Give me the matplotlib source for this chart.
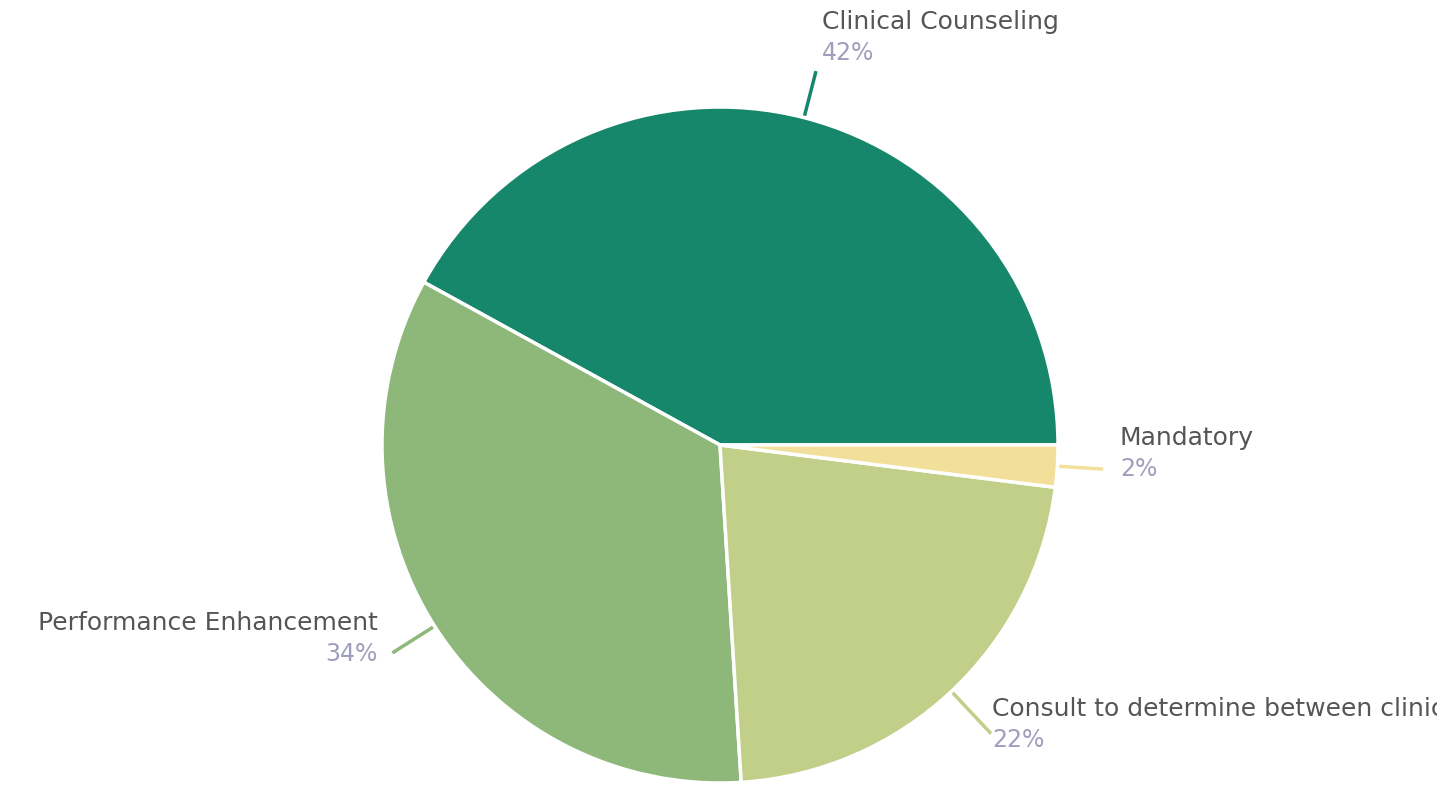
import numpy as np
import matplotlib.pyplot as plt

# slice data (counter-clockwise from 3 o'clock)
labels = ['Clinical Counseling', 'Performance Enhancement',
          'Consult to determine between clinical counseling and performance enhancement',
          'Mandatory']
shares = [42, 34, 22, 2]
colors = ['#17876b', '#8db87a', '#c1cf88', '#f2e09a']

W, H = 1437, 788
fig = plt.figure(figsize=(W / 100, H / 100), dpi=100)
ax = fig.add_axes([0, 0, 1, 1])

cx, cy, r = 720, H - 445, 338
wedges, _ = ax.pie(shares, colors=colors, startangle=0, counterclock=True,
                   center=(cx, cy), radius=r, frame=True,
                   wedgeprops=dict(edgecolor='white', linewidth=2.5))
ax.set_xlim(0, W)
ax.set_ylim(0, H)
ax.set_aspect('equal')
ax.axis('off')

# label anchor (pixel coords from top-left) and alignment per slice
text_pos = [(822, 22, 'left'), (378, 623, 'right'), (992, 709, 'left'), (1120, 438, 'left')]
lead_len = [48, 50, 58, 46]

for w, lab, pct, col, (tx, ty, ha), ll in zip(wedges, labels, shares, colors, text_pos, lead_len):
    ang = np.deg2rad((w.theta1 + w.theta2) / 2)
    x0, y0 = cx + (r + 2) * np.cos(ang), cy + (r + 2) * np.sin(ang)
    x1, y1 = cx + (r + ll) * np.cos(ang), cy + (r + ll) * np.sin(ang)
    ax.plot([x0, x1], [y0, y1], color=col, lw=2.5, solid_capstyle='butt', clip_on=False)
    ax.text(tx, H - ty, lab, ha=ha, va='center', fontsize=18, color='#555555', clip_on=False)
    ax.text(tx, H - ty - 31, f'{pct}%', ha=ha, va='center', fontsize=17, color='#a09fbb', clip_on=False)

fig.savefig('out.png', dpi=100)
